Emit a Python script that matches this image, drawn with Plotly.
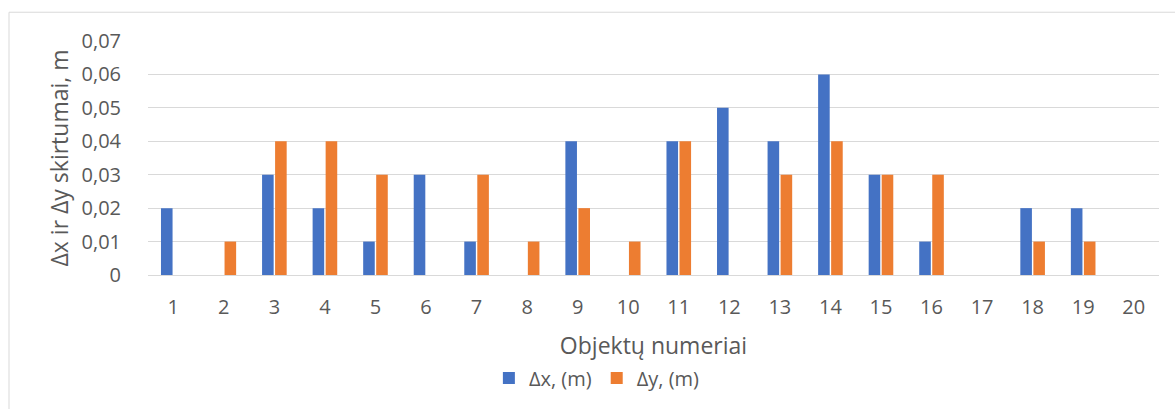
import plotly.graph_objects as go

categories = [str(i) for i in range(1, 21)]
dx_values = [0.02, 0, 0.03, 0.02, 0.01, 0.03, 0.01, 0, 0.04, 0, 0.04, 0.05, 0.04, 0.06, 0.03, 0.01, 0, 0.02, 0.02, 0]
dy_values = [0, 0.01, 0.04, 0.04, 0.03, 0, 0.03, 0.01, 0.02, 0.01, 0.04, 0, 0.03, 0.04, 0.03, 0.03, 0, 0.01, 0.01, 0]
y_tickvals = [0, 0.01, 0.02, 0.03, 0.04, 0.05, 0.06, 0.07]
y_ticktext = ["0", "0,01", "0,02", "0,03", "0,04", "0,05", "0,06", "0,07"]
series_names = ["Δx, (m)", "Δy, (m)"]
x_title = "Objektų numeriai"
y_title = "Δx ir Δy skirtumai, m"

FONT = "Open Sans"
GRAY = "#595959"

fig = go.Figure()
fig.add_trace(go.Bar(x=categories, y=dx_values, name=series_names[0], marker_color="#4472C4", marker_line_width=0))
fig.add_trace(go.Bar(x=categories, y=dy_values, name=series_names[1], marker_color="#ED7D31", marker_line_width=0))

fig.update_layout(
    width=1175, height=409,
    margin=dict(l=148, r=16, t=41, b=132),
    paper_bgcolor="white", plot_bgcolor="white",
    barmode="group", bargap=0.485, bargroupgap=0.11,
    font=dict(family=FONT, color=GRAY, size=20),
    showlegend=True,
    legend=dict(orientation="h", x=0.444, xanchor="center", y=-0.44, yanchor="middle",
                font=dict(size=20, color=GRAY), itemwidth=30, traceorder="normal"),
    xaxis=dict(
        type="category", showgrid=False, showline=True, linecolor="#d9d9d9", linewidth=1,
        ticks="outside", ticklen=14, tickcolor="rgba(0,0,0,0)", automargin=False,
        tickfont=dict(size=20, color=GRAY),
        title=dict(text=x_title, font=dict(size=23, color=GRAY), standoff=18),
    ),
    yaxis=dict(
        range=[0, 0.07], tickvals=y_tickvals, ticktext=y_ticktext,
        showgrid=True, gridcolor="#d9d9d9", gridwidth=1.3, zeroline=False,
        ticks="outside", ticklen=22, tickcolor="rgba(0,0,0,0)", automargin=False,
        tickfont=dict(size=20, color=GRAY),
        title=dict(text=y_title, font=dict(size=23, color=GRAY), standoff=6),
    ),
    shapes=[dict(type="rect", xref="paper", yref="paper",
                 x0=(9 - 148) / 1011, x1=1.2, y0=-1.0, y1=(277 - 12) / 236,
                 line=dict(color="#d9d9d9", width=1), fillcolor="rgba(0,0,0,0)", layer="below")],
)

fig.write_html("out.html", config={"displayModeBar": False},
               post_script="document.body.style.margin='0';")
